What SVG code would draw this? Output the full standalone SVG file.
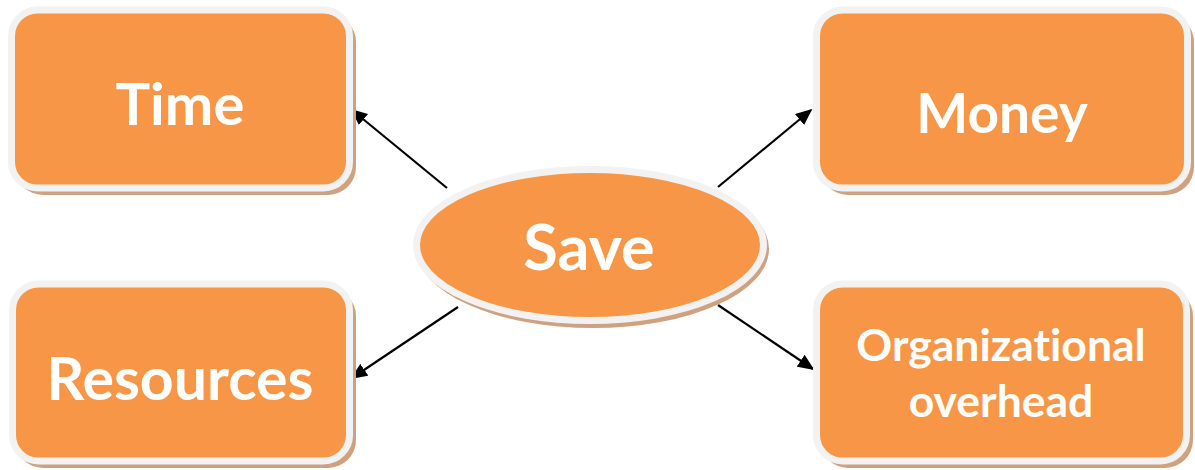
<svg xmlns="http://www.w3.org/2000/svg" width="1195" height="470" viewBox="0 0 1195 470">
  <defs>
    <style>
      .shadow { fill: #CFA17F; }
      .box { fill: #F79646; stroke: #F2F2F2; stroke-width: 7; }
      .label { font-family: Lato, "Open Sans", "Liberation Sans", sans-serif; font-weight: bold; fill: #FFFFFF; text-anchor: middle; font-variant-ligatures: none; }
      .link { stroke: #000000; stroke-width: 2.2; fill: none; marker-end: url(#arrow); }
    </style>
    <marker id="arrow" viewBox="0 0 10 10" refX="9" refY="5" markerWidth="7.5" markerHeight="6.5" markerUnits="strokeWidth" orient="auto" preserveAspectRatio="none">
      <path d="M0,0 L10,5 L0,10 z" fill="#000000"/>
    </marker>
  </defs>
  <rect width="1195" height="470" fill="#FFFFFF"/>

  <g id="connectors">
    <line class="link" x1="447" y1="188" x2="352" y2="110"/>
    <line class="link" x1="718" y1="187" x2="811" y2="110"/>
    <line class="link" x1="458" y1="307" x2="352" y2="378"/>
    <line class="link" x1="718" y1="305" x2="813" y2="369"/>
  </g>

  <g id="time">
    <rect class="shadow" x="15" y="14" width="341" height="181" rx="28"/>
    <rect class="box" x="11.5" y="10" width="338" height="178" rx="26"/>
    <text class="label" x="180" y="125" font-size="58">Time</text>
  </g>

  <g id="money">
    <rect class="shadow" x="820" y="14" width="374" height="181" rx="28"/>
    <rect class="box" x="816.5" y="10" width="371" height="178" rx="26"/>
    <text class="label" x="1002" y="133" font-size="55">Money</text>
  </g>

  <g id="resources">
    <rect class="shadow" x="15" y="288" width="341" height="180" rx="28"/>
    <rect class="box" x="12.5" y="284" width="337" height="177" rx="26"/>
    <text class="label" x="180" y="400" font-size="59">Resources</text>
  </g>

  <g id="organizational-overhead">
    <rect class="shadow" x="820" y="288" width="373" height="180" rx="28"/>
    <rect class="box" x="816.5" y="284" width="370" height="177" rx="26"/>
    <text class="label" font-size="44.5"><tspan x="1001" y="361">Organizational</tspan><tspan x="1001" y="417">overhead</tspan></text>
  </g>

  <g id="save">
    <ellipse class="shadow" cx="593" cy="249" rx="176" ry="79"/>
    <ellipse class="box" cx="590" cy="245" rx="173.5" ry="75.5"/>
    <text class="label" x="589" y="270" font-size="63">Save</text>
  </g>
</svg>
